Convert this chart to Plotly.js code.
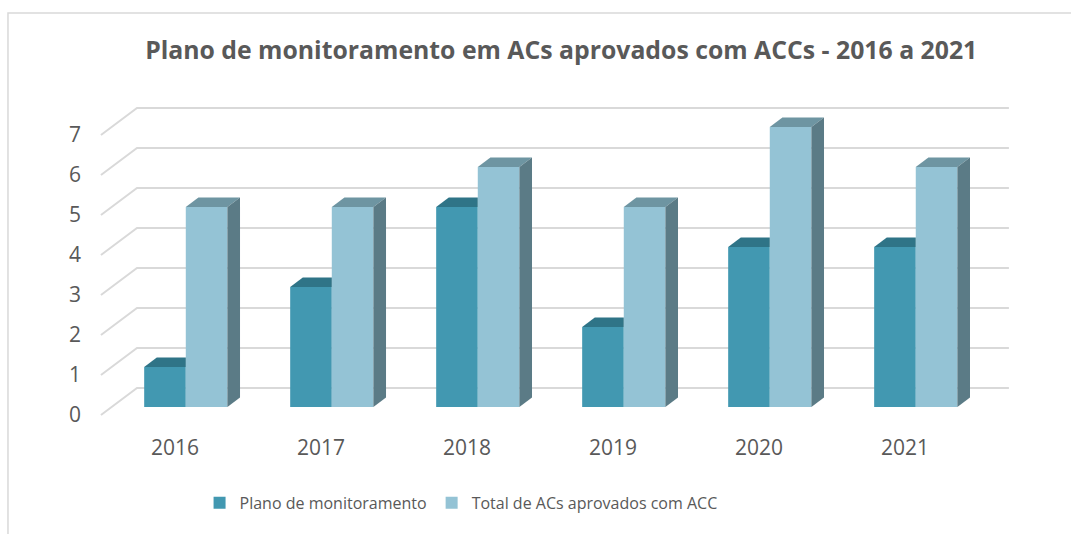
<!DOCTYPE html>
<html>
<head>
<meta charset="utf-8">
<script src="https://cdn.plot.ly/plotly-3.0.1.min.js"></script>
<style>html,body{margin:0;padding:0;background:#fff;}#chart{width:1071px;height:534px;}</style>
</head>
<body>
<div id="chart"></div>
<script>
// ---- data ----
var years = ['2016', '2017', '2018', '2019', '2020', '2021'];
var planoMonitoramento = [1, 3, 5, 2, 4, 4];
var totalACsAprovados = [5, 5, 6, 5, 7, 6];
var yTicks = [0, 1, 2, 3, 4, 5, 6, 7];
var seriesNames = ['Plano de monitoramento', 'Total de ACs aprovados com ACC'];

// ---- styling / 3D geometry (in axis units) ----
var DEPTH_X = 0.247, DEPTH_Y = 0.675;   // full floor depth vector
var FRONT_F = 0.3, BAR_DEPTH_F = 0.35;  // bar front position & bar depth (fractions of floor depth)
var BAR_W = 0.285;
var SHIFT_X = FRONT_F * DEPTH_X;
var BASE_Y = FRONT_F * DEPTH_Y;
var BDX = BAR_DEPTH_F * DEPTH_X, BDY = BAR_DEPTH_F * DEPTH_Y;
var FLOOR_LEFT = -0.507, FLOOR_RIGHT = 5.712;

var colDarkFront = '#4298B1', colDarkTop = '#2F7487';
var colLightFront = '#94C3D5', colLightTop = '#6E95A2', colLightSide = '#5B7B86';

var xs = years.map(function (_, i) { return i; });
var traces = [];

// front faces (bars)
traces.push({
  type: 'bar', name: seriesNames[0], x: xs, y: planoMonitoramento, base: BASE_Y,
  offset: -BAR_W + SHIFT_X, width: BAR_W,
  marker: {color: colDarkFront, line: {width: 0}}, hoverinfo: 'skip'
});
traces.push({
  type: 'bar', name: seriesNames[1], x: xs, y: totalACsAprovados, base: BASE_Y,
  offset: SHIFT_X, width: BAR_W,
  marker: {color: colLightFront, line: {width: 0}}, hoverinfo: 'skip'
});

function poly(px, py, color) {
  traces.push({type: 'scatter', mode: 'lines', x: px, y: py, fill: 'toself',
    fillcolor: color, line: {width: 0, color: color}, showlegend: false, hoverinfo: 'skip'});
}

xs.forEach(function (i) {
  var d = planoMonitoramento[i], l = totalACsAprovados[i];
  var x0 = i - BAR_W + SHIFT_X, x1 = i + SHIFT_X, x2 = x1 + BAR_W;
  var top = BASE_Y + d;
  // dark bar top face (clipped by the neighbouring taller bar)
  if (l >= d) {
    poly([x0, x1, x1, x0 + BDX, x0], [top, top, top + BDY, top + BDY, top], colDarkTop);
  } else {
    poly([x0, x1, x1 + BDX, x0 + BDX, x0], [top, top, top + BDY, top + BDY, top], colDarkTop);
  }
  // light bar top & side faces
  var ltop = BASE_Y + l;
  poly([x1, x2, x2 + BDX, x1 + BDX, x1], [ltop, ltop, ltop + BDY, ltop + BDY, ltop], colLightTop);
  poly([x2, x2 + BDX, x2 + BDX, x2, x2], [BASE_Y, BASE_Y + BDY, ltop + BDY, ltop, BASE_Y], colLightSide);
});

// gridlines on the back wall (with diagonal floor stubs)
var shapes = [];
yTicks.forEach(function (v) {
  shapes.push({type: 'path', layer: 'below', xref: 'x', yref: 'y',
    path: 'M' + FLOOR_LEFT + ',' + v + ' L' + (FLOOR_LEFT + DEPTH_X) + ',' + (v + DEPTH_Y) +
          ' L' + FLOOR_RIGHT + ',' + (v + DEPTH_Y),
    line: {color: '#D9D9D9', width: 2}});
});
// chart frame
shapes.push({type: 'path', xref: 'paper', yref: 'paper', layer: 'below',
  path: 'M-0.0882,-0.6 L-0.0882,1.2636 L1.2,1.2636', line: {color: '#D9D9D9', width: 1.5}});

var layout = {
  width: 1071, height: 534,
  margin: {l: 90, r: 51, t: 100, b: 104},
  paper_bgcolor: '#ffffff', plot_bgcolor: 'rgba(0,0,0,0)',
  font: {family: 'Open Sans, sans-serif', color: '#595959'},
  title: {text: 'Plano de monitoramento em ACs aprovados com ACCs - 2016 a 2021',
    font: {family: 'Open Sans, sans-serif', size: 24.8, color: '#595959', weight: 'bold'},
    x: 0.524, xanchor: 'center', y: 0.905, yanchor: 'middle', xref: 'container', yref: 'container'},
  barmode: 'overlay',
  xaxis: {range: [-0.582, 5.788], tickvals: xs, ticktext: years, showgrid: false, zeroline: false,
    showline: false, ticks: '', ticklabelstandoff: 3, tickfont: {size: 21, color: '#595959'}, fixedrange: true},
  yaxis: {range: [-0.375, 7.875], tickvals: yTicks, showgrid: false, zeroline: false,
    showline: false, ticks: '', ticklabelstandoff: 8, tickfont: {size: 21, color: '#595959'}, fixedrange: true},
  shapes: shapes,
  showlegend: true,
  legend: {orientation: 'h', x: 0.399, xanchor: 'center', y: -0.221, yanchor: 'middle',
    font: {size: 16, color: '#595959'}, itemclick: false, traceorder: 'normal'}
};

Plotly.newPlot('chart', traces, layout, {displayModeBar: false, staticPlot: true});
</script>
</body>
</html>
